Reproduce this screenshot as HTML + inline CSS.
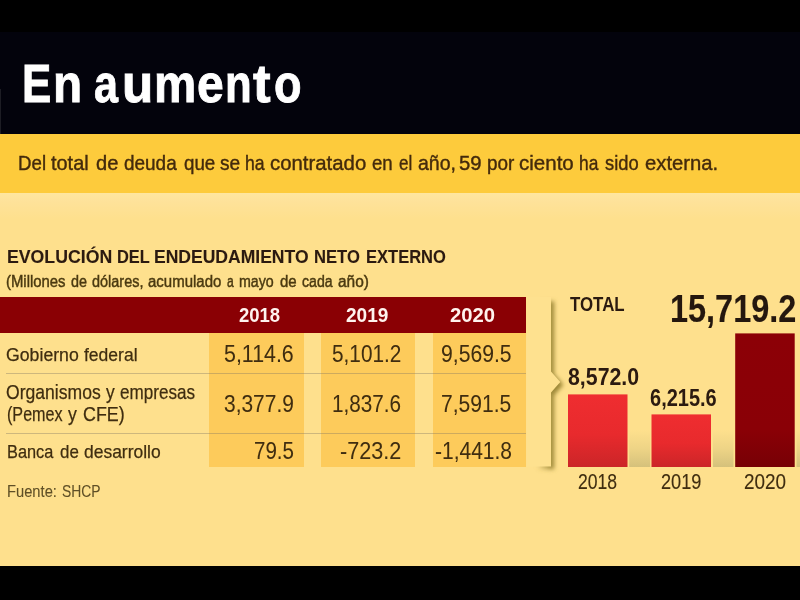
<!DOCTYPE html>
<html lang="es">
<head>
<meta charset="utf-8">
<title>En aumento</title>
<style>
html,body{margin:0;padding:0}
body{width:800px;height:600px;position:relative;overflow:hidden;background:#000;font-family:"Liberation Sans",sans-serif}
.abs{position:absolute}
.t{position:absolute;white-space:nowrap;line-height:1;transform-origin:0 0;font-family:"Liberation Sans",sans-serif;filter:blur(.3px)}
#navy{left:0;top:32px;width:800px;height:102px;background:#03030c}
#edge{left:0;top:88.5px;width:1.2px;height:45.5px;background:#1d1d24}
#band{left:0;top:134px;width:800px;height:59px;background:#fdcb3c}
#panel{left:0;top:192.6px;width:800px;height:373.2px;background:linear-gradient(#fee6a0 0,#fee29a 8px,#fee08d 26px,#fee08d 100%)}
#thead{left:0;top:296.5px;width:526px;height:36px;background:#8a0004}
.cell{position:absolute;top:332.5px;height:134px;background:#fdcb5b}
.sep{position:absolute;left:5.5px;width:520.5px;height:1px;background:rgba(125,115,100,.38)}
.bar{position:absolute}
</style>
</head>
<body>
<div id="navy" class="abs"></div>
<div id="edge" class="abs"></div>
<div id="band" class="abs"></div>
<div id="panel" class="abs"></div>
<div id="thead" class="abs"></div>
<div class="cell" style="left:209px;width:95px"></div>
<div class="cell" style="left:320.5px;width:94px"></div>
<div class="cell" style="left:432.5px;width:93.5px"></div>
<div class="sep" style="top:373.2px"></div>
<div class="sep" style="top:433.2px"></div>
<svg class="abs" style="left:0;top:0" width="800" height="600" viewBox="0 0 800 600">
 <defs>
  <filter id="bl" x="-50%" y="-10%" width="200%" height="120%"><feGaussianBlur stdDeviation="2.2"/></filter>
  <filter id="bl2" x="-80%" y="-80%" width="260%" height="260%"><feGaussianBlur stdDeviation="5"/></filter>
  <linearGradient id="sh" gradientUnits="userSpaceOnUse" x1="534" y1="0" x2="549" y2="0">
   <stop offset="0" stop-color="#9b8636" stop-opacity="0"/><stop offset="1" stop-color="#9b8636" stop-opacity="1"/>
  </linearGradient>
  <linearGradient id="r1" x1="0" y1="0" x2="0" y2="1"><stop offset="0" stop-color="#ef2d30"/><stop offset=".55" stop-color="#e82a2d"/><stop offset="1" stop-color="#cb2528"/></linearGradient>
  <linearGradient id="r2" x1="0" y1="0" x2="0" y2="1"><stop offset="0" stop-color="#8c0006"/><stop offset=".72" stop-color="#8a0006"/><stop offset="1" stop-color="#770005"/></linearGradient>
  <linearGradient id="fs" x1="0" y1="0" x2="0" y2="1"><stop offset="0" stop-color="#8c8a5c" stop-opacity="0"/><stop offset=".5" stop-color="#8c8a5c" stop-opacity=".14"/><stop offset="1" stop-color="#8c8a5c" stop-opacity=".36"/></linearGradient>
  <clipPath id="cp"><rect x="0" y="193" width="800" height="274.5"/></clipPath>
 </defs>
 <!-- bracket panel edge with drop shadow -->
 <path d="M528 298.5H551V371.5L560.3 382L551 392.5V466.5H528Z" fill="url(#sh)" filter="url(#bl)" transform="translate(3.1,2.8)"/>
 <path d="M527 297H551V371.5L560.3 382L551 392.5V466.5H527Z" fill="#fee18f"/>
 <!-- bar shadows -->
 <rect x="629.2" y="430" width="21" height="37" fill="url(#fs)"/>
 <rect x="713" y="430" width="20.5" height="37" fill="url(#fs)"/>
 <rect x="796.5" y="430" width="3.5" height="37" fill="url(#fs)"/>
 <rect x="568" y="394.4" width="59.5" height="72.6" fill="url(#r1)"/>
 <rect x="651.5" y="414.4" width="59.5" height="52.6" fill="url(#r1)"/>
 <rect x="735.2" y="333.4" width="59.5" height="133.6" fill="url(#r2)"/>
</svg>
<span class="t" style="left:22.01px;top:56.66px;font-size:53.71px;font-weight:700;color:#ffffff;transform:scaleX(0.8180);-webkit-text-stroke:0.9px #ffffff">E</span>
<span class="t" style="left:52.78px;top:56.66px;font-size:53.71px;font-weight:700;color:#ffffff;transform:scaleX(0.8886);-webkit-text-stroke:0.9px #ffffff">n</span>
<span class="t" style="left:94.06px;top:56.66px;font-size:53.71px;font-weight:700;color:#ffffff;transform:scaleX(0.8029);-webkit-text-stroke:0.9px #ffffff">a</span>
<span class="t" style="left:121.93px;top:56.66px;font-size:53.71px;font-weight:700;color:#ffffff;transform:scaleX(0.9530);-webkit-text-stroke:0.9px #ffffff">u</span>
<span class="t" style="left:153.78px;top:56.66px;font-size:53.71px;font-weight:700;color:#ffffff;transform:scaleX(0.8851);-webkit-text-stroke:0.9px #ffffff">m</span>
<span class="t" style="left:196.80px;top:56.66px;font-size:53.71px;font-weight:700;color:#ffffff;transform:scaleX(0.8956);-webkit-text-stroke:0.9px #ffffff">e</span>
<span class="t" style="left:224.50px;top:56.66px;font-size:53.71px;font-weight:700;color:#ffffff;transform:scaleX(0.8148);-webkit-text-stroke:0.9px #ffffff">n</span>
<span class="t" style="left:252.64px;top:56.66px;font-size:53.71px;font-weight:700;color:#ffffff;transform:scaleX(0.9859);-webkit-text-stroke:0.9px #ffffff">t</span>
<span class="t" style="left:273.91px;top:56.66px;font-size:53.71px;font-weight:700;color:#ffffff;transform:scaleX(0.8396);-webkit-text-stroke:0.9px #ffffff">o</span>
<span class="t" style="left:17.96px;top:151.74px;font-size:21.07px;font-weight:400;color:#432a0c;transform:scaleX(0.8872);-webkit-text-stroke:0.4px #432a0c">Del</span>
<span class="t" style="left:51.19px;top:151.74px;font-size:21.07px;font-weight:400;color:#432a0c;transform:scaleX(0.9453);-webkit-text-stroke:0.4px #432a0c">total</span>
<span class="t" style="left:95.87px;top:151.74px;font-size:21.07px;font-weight:400;color:#432a0c;transform:scaleX(0.9552);-webkit-text-stroke:0.4px #432a0c">de</span>
<span class="t" style="left:124.05px;top:151.74px;font-size:21.07px;font-weight:400;color:#432a0c;transform:scaleX(0.8996);-webkit-text-stroke:0.4px #432a0c">deuda</span>
<span class="t" style="left:183.62px;top:151.74px;font-size:21.07px;font-weight:400;color:#432a0c;transform:scaleX(0.8907);-webkit-text-stroke:0.4px #432a0c">que</span>
<span class="t" style="left:219.96px;top:151.74px;font-size:21.07px;font-weight:400;color:#432a0c;transform:scaleX(0.9076);-webkit-text-stroke:0.4px #432a0c">se</span>
<span class="t" style="left:245.08px;top:151.74px;font-size:21.07px;font-weight:400;color:#432a0c;transform:scaleX(0.8364);-webkit-text-stroke:0.4px #432a0c">ha</span>
<span class="t" style="left:270.18px;top:151.74px;font-size:21.07px;font-weight:400;color:#432a0c;transform:scaleX(0.9671);-webkit-text-stroke:0.4px #432a0c">contratado</span>
<span class="t" style="left:371.78px;top:151.74px;font-size:21.07px;font-weight:400;color:#432a0c;transform:scaleX(0.8854);-webkit-text-stroke:0.4px #432a0c">en</span>
<span class="t" style="left:399.00px;top:151.74px;font-size:21.07px;font-weight:400;color:#432a0c;transform:scaleX(0.8073);-webkit-text-stroke:0.4px #432a0c">el</span>
<span class="t" style="left:417.99px;top:151.74px;font-size:21.07px;font-weight:400;color:#432a0c;transform:scaleX(0.9274);-webkit-text-stroke:0.4px #432a0c">año,</span>
<span class="t" style="left:458.54px;top:151.74px;font-size:21.07px;font-weight:400;color:#432a0c;transform:scaleX(0.9657);-webkit-text-stroke:0.4px #432a0c">59</span>
<span class="t" style="left:487.12px;top:151.74px;font-size:21.07px;font-weight:400;color:#432a0c;transform:scaleX(0.8985);-webkit-text-stroke:0.4px #432a0c">por</span>
<span class="t" style="left:518.97px;top:151.74px;font-size:21.07px;font-weight:400;color:#432a0c;transform:scaleX(0.9739);-webkit-text-stroke:0.4px #432a0c">ciento</span>
<span class="t" style="left:578.96px;top:151.74px;font-size:21.07px;font-weight:400;color:#432a0c;transform:scaleX(0.8244);-webkit-text-stroke:0.4px #432a0c">ha</span>
<span class="t" style="left:604.99px;top:151.74px;font-size:21.07px;font-weight:400;color:#432a0c;transform:scaleX(0.8706);-webkit-text-stroke:0.4px #432a0c">sido</span>
<span class="t" style="left:644.99px;top:151.74px;font-size:21.07px;font-weight:400;color:#432a0c;transform:scaleX(0.9619);-webkit-text-stroke:0.4px #432a0c">externa.</span>
<span class="t" style="left:7.07px;top:248.76px;font-size:17.57px;font-weight:700;color:#2b1a10;transform:scaleX(1.0073);-webkit-text-stroke:0.1px #2b1a10">EVOLUCIÓN</span>
<span class="t" style="left:116.91px;top:248.76px;font-size:17.57px;font-weight:700;color:#2b1a10;transform:scaleX(0.9339);-webkit-text-stroke:0.1px #2b1a10">DEL</span>
<span class="t" style="left:154.33px;top:248.76px;font-size:17.57px;font-weight:700;color:#2b1a10;transform:scaleX(0.9982);-webkit-text-stroke:0.1px #2b1a10">ENDEUDAMIENTO</span>
<span class="t" style="left:314.19px;top:248.76px;font-size:17.57px;font-weight:700;color:#2b1a10;transform:scaleX(0.9449);-webkit-text-stroke:0.1px #2b1a10">NETO</span>
<span class="t" style="left:365.84px;top:248.76px;font-size:17.57px;font-weight:700;color:#2b1a10;transform:scaleX(0.9407);-webkit-text-stroke:0.1px #2b1a10">EXTERNO</span>
<span class="t" style="left:6.21px;top:273.61px;font-size:16.65px;font-weight:400;color:#4a3910;transform:scaleX(0.8945);-webkit-text-stroke:0.45px #4a3910">(Millones</span>
<span class="t" style="left:71.17px;top:273.61px;font-size:16.65px;font-weight:400;color:#4a3910;transform:scaleX(0.8629);-webkit-text-stroke:0.45px #4a3910">de</span>
<span class="t" style="left:92.37px;top:273.61px;font-size:16.65px;font-weight:400;color:#4a3910;transform:scaleX(0.8684);-webkit-text-stroke:0.45px #4a3910">dólares,</span>
<span class="t" style="left:148.22px;top:273.61px;font-size:16.65px;font-weight:400;color:#4a3910;transform:scaleX(0.9014);-webkit-text-stroke:0.45px #4a3910">acumulado</span>
<span class="t" style="left:227.46px;top:273.61px;font-size:16.65px;font-weight:400;color:#4a3910;transform:scaleX(0.7298);-webkit-text-stroke:0.45px #4a3910">a</span>
<span class="t" style="left:238.79px;top:273.61px;font-size:16.65px;font-weight:400;color:#4a3910;transform:scaleX(0.8544);-webkit-text-stroke:0.45px #4a3910">mayo</span>
<span class="t" style="left:279.88px;top:273.61px;font-size:16.65px;font-weight:400;color:#4a3910;transform:scaleX(0.9009);-webkit-text-stroke:0.45px #4a3910">de</span>
<span class="t" style="left:301.99px;top:273.61px;font-size:16.65px;font-weight:400;color:#4a3910;transform:scaleX(0.8482);-webkit-text-stroke:0.45px #4a3910">cada</span>
<span class="t" style="left:337.78px;top:273.61px;font-size:16.65px;font-weight:400;color:#4a3910;transform:scaleX(0.9284);-webkit-text-stroke:0.45px #4a3910">año)</span>
<span class="t" style="left:239.38px;top:304.76px;font-size:20.63px;font-weight:700;color:#fff3ee;transform:scaleX(0.8971)">2018</span>
<span class="t" style="left:346.36px;top:304.80px;font-size:20.63px;font-weight:700;color:#fff3ee;transform:scaleX(0.9242)">2019</span>
<span class="t" style="left:449.74px;top:304.80px;font-size:20.63px;font-weight:700;color:#fff3ee;transform:scaleX(0.9838)">2020</span>
<span class="t" style="left:6.27px;top:345.43px;font-size:19.14px;font-weight:400;color:#3f2d10;transform:scaleX(0.9253);-webkit-text-stroke:0.25px #3f2d10">Gobierno</span>
<span class="t" style="left:84.01px;top:345.43px;font-size:19.14px;font-weight:400;color:#3f2d10;transform:scaleX(0.9160);-webkit-text-stroke:0.25px #3f2d10">federal</span>
<span class="t" style="left:6.11px;top:381.88px;font-size:20.78px;font-weight:400;color:#3f2d10;transform:scaleX(0.8459);-webkit-text-stroke:0.25px #3f2d10">Organismos</span>
<span class="t" style="left:106.06px;top:381.88px;font-size:20.78px;font-weight:400;color:#3f2d10;transform:scaleX(0.8371);-webkit-text-stroke:0.25px #3f2d10">y</span>
<span class="t" style="left:120.34px;top:381.88px;font-size:20.78px;font-weight:400;color:#3f2d10;transform:scaleX(0.8237);-webkit-text-stroke:0.25px #3f2d10">empresas</span>
<span class="t" style="left:6.62px;top:403.24px;font-size:21.07px;font-weight:400;color:#3f2d10;transform:scaleX(0.7657);-webkit-text-stroke:0.25px #3f2d10">(Pemex</span>
<span class="t" style="left:67.53px;top:403.24px;font-size:21.07px;font-weight:400;color:#3f2d10;transform:scaleX(0.8393);-webkit-text-stroke:0.25px #3f2d10">y</span>
<span class="t" style="left:83.11px;top:403.24px;font-size:21.07px;font-weight:400;color:#3f2d10;transform:scaleX(0.8477);-webkit-text-stroke:0.25px #3f2d10">CFE)</span>
<span class="t" style="left:7.15px;top:443.06px;font-size:18.77px;font-weight:400;color:#3f2d10;transform:scaleX(0.8701);-webkit-text-stroke:0.25px #3f2d10">Banca</span>
<span class="t" style="left:60.24px;top:443.06px;font-size:18.77px;font-weight:400;color:#3f2d10;transform:scaleX(0.9001);-webkit-text-stroke:0.25px #3f2d10">de</span>
<span class="t" style="left:84.03px;top:443.06px;font-size:18.77px;font-weight:400;color:#3f2d10;transform:scaleX(0.9306);-webkit-text-stroke:0.25px #3f2d10">desarrollo</span>
<span class="t" style="left:223.95px;top:341.97px;font-size:24.07px;font-weight:400;color:#3f2d10;transform:scaleX(0.8886);-webkit-text-stroke:0.05px #3f2d10">5,114.6</span>
<span class="t" style="left:224.15px;top:391.75px;font-size:24.32px;font-weight:400;color:#3f2d10;transform:scaleX(0.8610);-webkit-text-stroke:0.05px #3f2d10">3,377.9</span>
<span class="t" style="left:253.73px;top:438.69px;font-size:23.83px;font-weight:400;color:#3f2d10;transform:scaleX(0.8619);-webkit-text-stroke:0.05px #3f2d10">79.5</span>
<span class="t" style="left:331.59px;top:341.51px;font-size:23.81px;font-weight:400;color:#3f2d10;transform:scaleX(0.8732);-webkit-text-stroke:0.05px #3f2d10">5,101.2</span>
<span class="t" style="left:331.71px;top:391.73px;font-size:24.33px;font-weight:400;color:#3f2d10;transform:scaleX(0.8505);-webkit-text-stroke:0.05px #3f2d10">1,837.6</span>
<span class="t" style="left:339.98px;top:438.70px;font-size:23.85px;font-weight:400;color:#3f2d10;transform:scaleX(0.9058);-webkit-text-stroke:0.05px #3f2d10">-723.2</span>
<span class="t" style="left:440.98px;top:342.21px;font-size:24.10px;font-weight:400;color:#3f2d10;transform:scaleX(0.8778);-webkit-text-stroke:0.05px #3f2d10">9,569.5</span>
<span class="t" style="left:441.45px;top:391.76px;font-size:24.33px;font-weight:400;color:#3f2d10;transform:scaleX(0.8650);-webkit-text-stroke:0.05px #3f2d10">7,591.5</span>
<span class="t" style="left:434.56px;top:438.68px;font-size:23.82px;font-weight:400;color:#3f2d10;transform:scaleX(0.8816);-webkit-text-stroke:0.05px #3f2d10">-1,441.8</span>
<span class="t" style="left:6.70px;top:483.94px;font-size:16.92px;font-weight:400;color:#5f4f26;transform:scaleX(0.8704);-webkit-text-stroke:0.1px #5f4f26">Fuente:</span>
<span class="t" style="left:61.69px;top:483.94px;font-size:16.92px;font-weight:400;color:#5f4f26;transform:scaleX(0.8210);-webkit-text-stroke:0.1px #5f4f26">SHCP</span>
<span class="t" style="left:569.54px;top:293.68px;font-size:20.78px;font-weight:700;color:#2b1a10;transform:scaleX(0.8123)">TOTAL</span>
<span class="t" style="left:670.04px;top:289.07px;font-size:39.51px;font-weight:700;color:#24170e;transform:scaleX(0.8215);-webkit-text-stroke:0.15px #24170e">15,719.2</span>
<span class="t" style="left:567.91px;top:364.71px;font-size:24.57px;font-weight:700;color:#2b1a10;transform:scaleX(0.8679)">8,572.0</span>
<span class="t" style="left:649.63px;top:385.93px;font-size:23.81px;font-weight:700;color:#2b1a10;transform:scaleX(0.8407)">6,215.6</span>
<span class="t" style="left:577.80px;top:470.81px;font-size:21.95px;font-weight:400;color:#3f2d10;transform:scaleX(0.8020);-webkit-text-stroke:0.15px #3f2d10">2018</span>
<span class="t" style="left:660.64px;top:470.89px;font-size:21.95px;font-weight:400;color:#3f2d10;transform:scaleX(0.8286);-webkit-text-stroke:0.15px #3f2d10">2019</span>
<span class="t" style="left:743.78px;top:470.89px;font-size:21.95px;font-weight:400;color:#3f2d10;transform:scaleX(0.8609);-webkit-text-stroke:0.15px #3f2d10">2020</span>
</body>
</html>
